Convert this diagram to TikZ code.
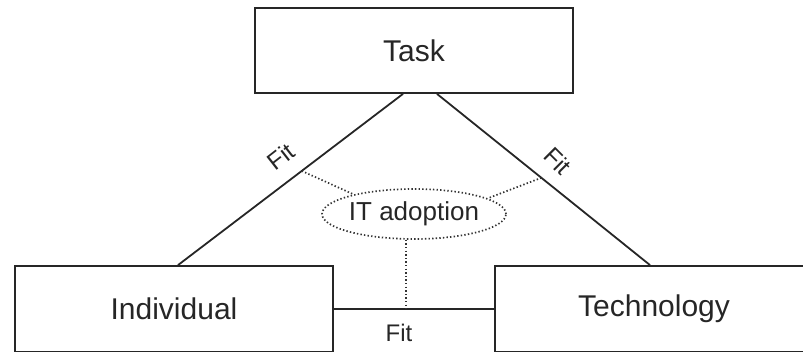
\documentclass[tikz,border=0pt]{standalone}
\usepackage{fontspec}
\setmainfont{Liberation Sans}
\usetikzlibrary{shapes.geometric}
\begin{document}
\begin{tikzpicture}[x=1pt,y=-1pt,
  box/.style={draw=black!85, line width=1.8pt, minimum width=318pt, minimum height=86pt, inner sep=0pt, text=black!85, font=\fontsize{30}{34}\selectfont},
  link/.style={draw=black!85, line width=1.8pt},
  dots/.style={draw=black!80, line width=1.7pt, dash pattern=on 1.4pt off 2.2pt},
  fitlbl/.style={text=black!85, font=\fontsize{24}{27}\selectfont, inner sep=0pt}]
\useasboundingbox (0,0) rectangle (803,351);
\begin{scope}
\clip (0,0) rectangle (803,351);
\node[box, minimum height=85pt] (task) at (414,50.5) {Task};
\node[box] (indiv) at (174,309) {Individual};
\node[box] (tech) at (654,309) {Technology};
\node[ellipse, dots, minimum width=174pt, minimum height=50pt, inner sep=0pt, text=black!85, font=\fontsize{26}{29}\selectfont] (adopt) at (414,214) {IT adoption};
\draw[link] ([xshift=-11pt]task.south) -- coordinate[pos=0.45] (lp) ([xshift=4pt]indiv.north);
\draw[link] ([xshift=23pt]task.south) -- coordinate[pos=0.49] (rp) ([xshift=-4pt]tech.north);
\draw[link] (indiv.east) -- (tech.west);
\draw[dots] (lp) -- (adopt.162);
\draw[dots] (rp) -- (adopt.12);
\draw[dots] ([xshift=-8pt]adopt.south) -- ([xshift=-8pt]adopt.south |- indiv.east);
\node[fitlbl, rotate=38] (fitl) at (281,157) {Fit};
\node[fitlbl, rotate=-45] (fitr) at (558,161) {Fit};
\node[fitlbl] (fitb) at (399,333) {Fit};
\end{scope}
\end{tikzpicture}
\end{document}
